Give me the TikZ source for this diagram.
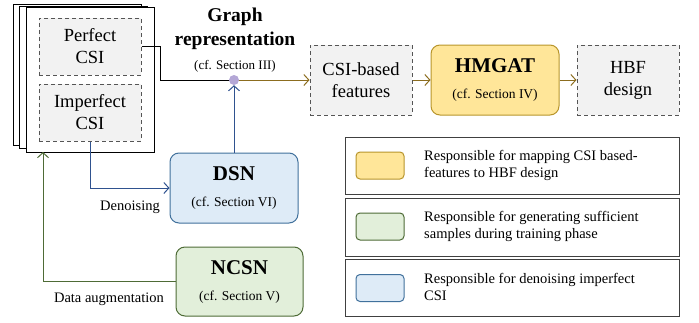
\documentclass[tikz,border=0pt]{standalone}
\usepackage{fontspec}
\setmainfont{Liberation Serif}
\usetikzlibrary{arrows.meta,calc}
\definecolor{grayfill}{HTML}{F2F2F2}
\definecolor{dashcol}{HTML}{555555}
\definecolor{goldfill}{HTML}{FFE699}
\definecolor{goldline}{HTML}{B8952B}
\definecolor{goldarrow}{HTML}{8C6D1F}
\definecolor{bluefill}{HTML}{DEEBF7}
\definecolor{blueline}{HTML}{41719C}
\definecolor{bluearrow}{HTML}{2F528F}
\definecolor{greenfill}{HTML}{E2EFDA}
\definecolor{greenline}{HTML}{4E6B36}
\definecolor{dotcol}{HTML}{B4A7D6}
\begin{document}
\begin{tikzpicture}[x=1pt,y=-1pt,
  page/.style={draw=black,fill=white,line width=1pt,inner sep=0pt},
  dbox/.style={draw=dashcol,fill=grayfill,dash pattern=on 4pt off 3pt,line width=1pt,inner sep=0pt,align=center,font=\fontsize{18.5}{22}\selectfont},
  rbox/.style={rounded corners=9pt,line width=1pt,inner sep=0pt,align=center,font=\fontsize{13.5}{26}\selectfont},
  lbox/.style={draw=black!75,fill=white,line width=1pt,inner sep=0pt},
  swatch/.style={rounded corners=4pt,line width=1pt,minimum width=48pt,minimum height=27pt,inner sep=0pt},
  ltext/.style={anchor=west,align=left,inner sep=0pt,font=\fontsize{14.5}{17}\selectfont},
  lab/.style={inner sep=0pt,font=\fontsize{14.5}{17}\selectfont},
  arr/.style={line width=1pt,-{Straight Barb[length=5pt,width=11pt]}}]
\useasboundingbox (0,0) rectangle (699,322);
% stacked pages
\node[page,minimum width=128pt,minimum height=141pt] (back) at (77,74.5) {};
\node[page,minimum width=128pt,minimum height=142.5pt] (mid) at (83.5,77.25) {};
\node[page,minimum width=128pt,minimum height=144.5pt] (front) at (90,79.75) {};
\node[dbox,minimum width=102pt,minimum height=57pt] (perfect) at (90,46.5) {Perfect\\CSI};
\node[dbox,minimum width=102pt,minimum height=57pt] (imperfect) at (90,112.5) {Imperfect\\CSI};
% top row
\node[dbox,minimum width=102pt,minimum height=70pt] (csif) at (361,80) {CSI-based\\features};
\node[rbox,draw=goldline,fill=goldfill,minimum width=128pt,minimum height=70pt] (hmgat) at (495,80) {{\fontsize{21}{24}\selectfont\bfseries HMGAT}\\(cf. Section IV)};
\node[dbox,minimum width=102pt,minimum height=70pt] (hbf) at (628,80) {HBF\\design};
% graph representation
\node[inner sep=0pt,align=center,font=\fontsize{19.5}{24}\selectfont\bfseries] (grtitle) at (235,29) {Graph\\representation};
\node[inner sep=0pt,font=\fontsize{13}{16}\selectfont] (grsec) at (235,66) {(cf. Section III)};
% DSN and NCSN
\node[rbox,draw=blueline,fill=bluefill,minimum width=128pt,minimum height=70pt] (dsn) at (234,188) {{\fontsize{21}{24}\selectfont\bfseries DSN}\\(cf. Section VI)};
\node[rbox,draw=greenline,fill=greenfill,minimum width=127pt,minimum height=69pt] (ncsn) at (239.5,281.5) {{\fontsize{21}{24}\selectfont\bfseries NCSN}\\(cf. Section V)};
\node[lab] (denoise) at (130,207) {Denoising};
\node[lab] (augment) at (109,299) {Data augmentation};
\coordinate (aug) at (43,152);
\coordinate (dotc) at (234,80);
% connectors
\draw[line width=1pt] (perfect.east) -- ++(19,0) |- (dotc);
\draw[arr,goldarrow] (dotc) -- (csif.west);
\draw[arr,goldarrow] (csif.east) -- (hmgat.west);
\draw[arr,goldarrow] (hmgat.east) -- (hbf.west);
\node[circle,fill=dotcol,minimum size=10pt,inner sep=0pt] (dot) at (dotc) {};
\draw[arr,bluearrow] (dsn.north) -- (dot.south);
\draw[arr,bluearrow] (imperfect.south) |- (dsn.west);
\draw[arr,greenline] (ncsn.west) -| (aug);
% legend
\node[lbox,minimum width=334pt,minimum height=57pt] (l1) at (512,165.5) {};
\node[lbox,minimum width=334pt,minimum height=58pt] (l2) at (512,227) {};
\node[lbox,minimum width=334pt,minimum height=57pt] (l3) at (512,287.5) {};
\node[swatch,draw=goldline,fill=goldfill] (s1) at (380,165.5) {};
\node[swatch,draw=greenline,fill=greenfill] (s2) at (380,226.5) {};
\node[swatch,draw=blueline,fill=bluefill] (s3) at (380,288) {};
\node[ltext] (t1) at (424,165) {Responsible for mapping CSI based-\\features to HBF design};
\node[ltext] (t2) at (424,226) {Responsible for generating sufficient\\samples during training phase};
\node[ltext] (t3) at (424,287) {Responsible for denoising imperfect\\CSI};
\end{tikzpicture}
\end{document}
